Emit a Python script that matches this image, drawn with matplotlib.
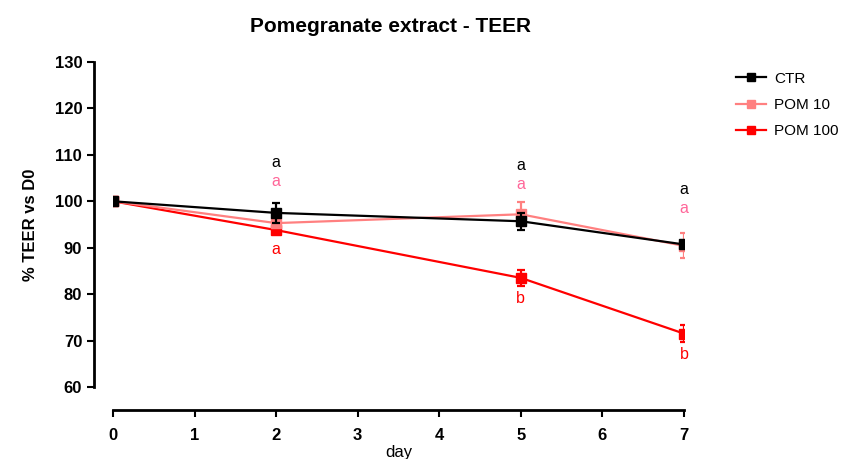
import matplotlib as mpl
mpl.use("Agg")
import matplotlib.pyplot as plt
from matplotlib.lines import Line2D

#
# --- data
#
days = [0, 2, 5, 7]

ctr = [100.0, 97.5, 95.7, 90.7]
ctr_err = [0.3, 2.2, 1.8, 0.7]

pom10 = [100.0, 95.3, 97.2, 90.4]
pom10_err = [0.3, 0.7, 2.6, 2.7]

pom100 = [100.0, 93.8, 83.5, 71.5]
pom100_err = [0.3, 0.7, 1.7, 1.8]

series_labels = ["CTR", "POM 10", "POM 100"]
series_colors = ["black", "#FF8080", "#FF0000"]

# significance letters above / below each group
letters_ctr = ["a", "a", "a"]
letters_ctr_y = [108.4, 107.8, 102.6]
letters_pom10 = ["a", "a", "a"]
letters_pom10_y = [104.2, 103.7, 98.5]
letters_pom100 = ["a", "b", "b"]
letters_pom100_y = [89.7, 79.0, 66.9]
letter_days = [2, 5, 7]
letter_colors = ["black", "#FF6699", "#FF0000"]

plt.rcParams["font.family"] = ["Liberation Sans", "DejaVu Sans"]

fig = plt.figure(figsize=(8.46, 4.59), dpi=100)
ax = fig.add_axes([113 / 846, 1 - 387 / 459, 571 / 846, 325 / 459])

all_y = [ctr, pom10, pom100]
all_err = [ctr_err, pom10_err, pom100_err]
for i in range(3):
    ax.errorbar(
        days, all_y[i], yerr=all_err[i],
        color=series_colors[i], lw=1.6, marker="s", markersize=6.5,
        capsize=3, elinewidth=1.6, capthick=1.6, zorder=3 + (2 - i),
    )

all_letters = [letters_ctr, letters_pom10, letters_pom100]
all_letters_y = [letters_ctr_y, letters_pom10_y, letters_pom100_y]
for i in range(3):
    for d, y, t in zip(letter_days, all_letters_y[i], all_letters[i]):
        ax.text(d, y, t, color=letter_colors[i], ha="center", va="center", fontsize=11.5)

#
# --- GraphPad-like offset axes
#
ax.set_xlim(0, 7)
ax.set_ylim(60, 130)
ax.set_xticks(range(0, 8))
ax.set_yticks(range(60, 131, 10))
ax.spines["top"].set_visible(False)
ax.spines["right"].set_visible(False)
ax.spines["left"].set_position(("outward", 13.7))
ax.spines["bottom"].set_position(("outward", 16.6))
ax.spines["left"].set_linewidth(2)
ax.spines["bottom"].set_linewidth(2)
ax.tick_params(width=1.5, length=5, labelsize=12)
ax.tick_params(axis="x", pad=8)
for lab in ax.get_xticklabels() + ax.get_yticklabels():
    lab.set_fontweight("bold")

ax.set_ylabel("% TEER vs D0", fontsize=12, fontweight="bold", labelpad=12)
ax.set_xlabel("day", fontsize=12, labelpad=1)
fig.text(390 / 846, 1 - 27 / 459, "Pomegranate extract - TEER",
         ha="center", va="center", fontsize=15, fontweight="bold")

handles = [
    Line2D([0], [0], color=c, lw=1.6, marker="s", markersize=5.5)
    for c in series_colors
]
fig.legend(handles, series_labels, loc="upper left",
           bbox_to_anchor=(722 / 846, 1 - 58 / 459), frameon=False,
           fontsize=11, handlelength=2.0, handletextpad=0.5, labelspacing=0.8)

plt.savefig("out.png", dpi=100)
